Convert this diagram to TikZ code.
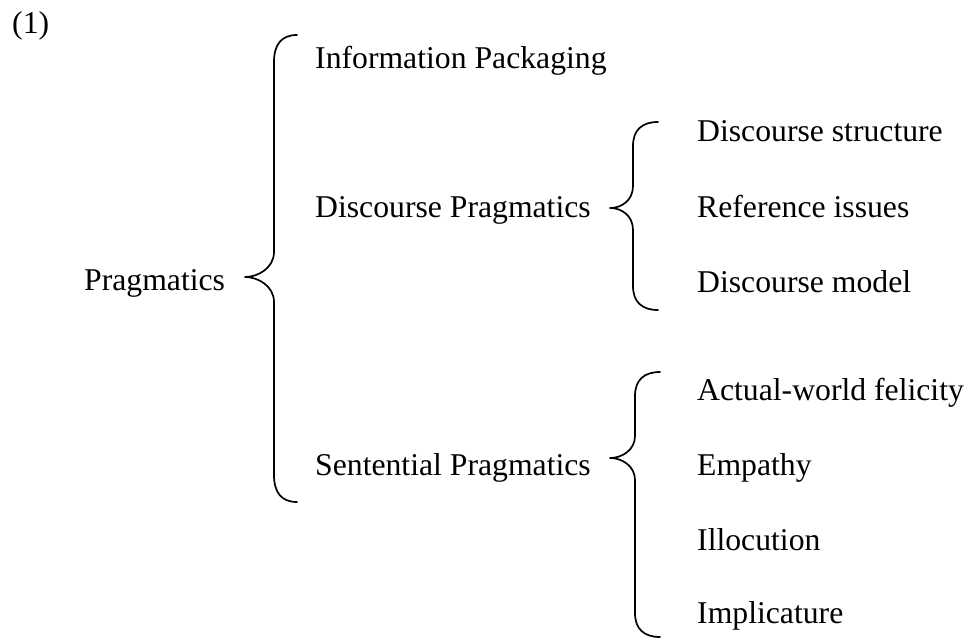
\documentclass[tikz,border=0pt]{standalone}
\usepackage{fontspec}
\setmainfont{Liberation Serif}
\begin{document}
\begin{tikzpicture}[x=1pt,y=-1pt,
  txt/.style={anchor=base west,inner sep=0pt,font=\fontsize{31.7}{38}\selectfont},
  brace/.style={line width=1.7pt,line cap=round,line join=round}]
\useasboundingbox (0,0) rectangle (970,642);
% labels
\node[txt] (ex) at (12,34) {(1)};
\node[txt] (prag) at (84,290) {Pragmatics};
\node[txt] (info) at (315,69) {Information Packaging};
\node[txt] (dprag) at (315,217) {Discourse Pragmatics};
\node[txt] (sprag) at (315,475) {Sentential Pragmatics};
\node[txt] (dstr) at (697,142) {Discourse structure};
\node[txt] (ref) at (697,217) {Reference issues};
\node[txt] (dmod) at (697,292) {Discourse model};
\node[txt] (awf) at (697,400) {Actual-world felicity};
\node[txt] (emp) at (697,475) {Empathy};
\node[txt] (ill) at (697,550) {Illocution};
\node[txt] (imp) at (697,623) {Implicature};
% big brace
\draw[brace] (297,35) .. controls (281,35) and (274,45) .. (274,62)
  -- (274,252) .. controls (274,268) and (258,277) .. (245,277)
  .. controls (258,277) and (274,286) .. (274,302)
  -- (274,475) .. controls (274,492) and (281,502) .. (297,502);
% discourse brace
\draw[brace] (658,122) .. controls (642,122) and (633,130) .. (633,146)
  -- (633,186) .. controls (633,200) and (622,208) .. (610,208)
  .. controls (622,208) and (633,216) .. (633,230)
  -- (633,286) .. controls (633,302) and (642,310) .. (658,310);
% sentential brace
\draw[brace] (660,372) .. controls (644,372) and (635,380) .. (635,396)
  -- (635,436) .. controls (635,450) and (622,458) .. (610,458)
  .. controls (622,458) and (635,466) .. (635,480)
  -- (635,613) .. controls (635,629) and (644,637) .. (660,637);
\end{tikzpicture}
\end{document}
